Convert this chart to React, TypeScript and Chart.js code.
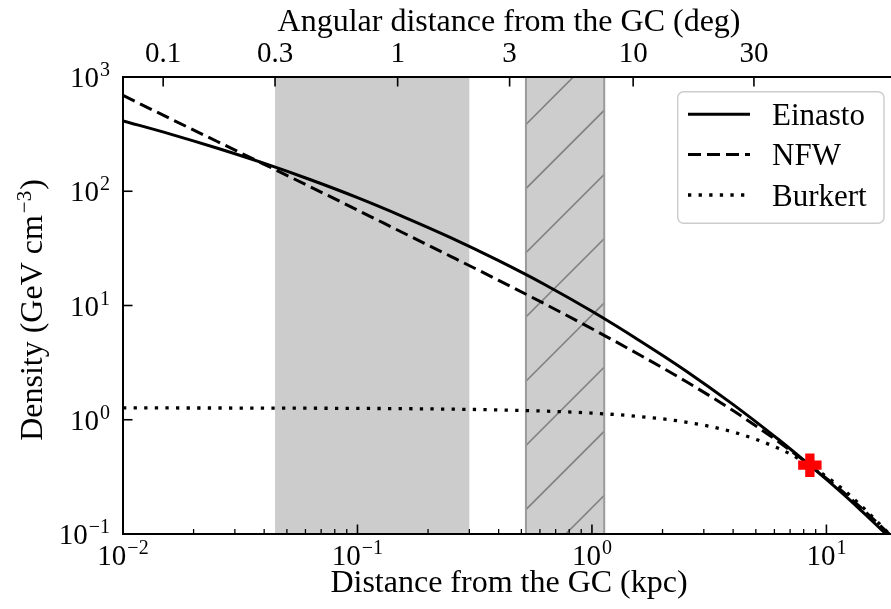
import React, { useEffect, useRef } from "react";
import { Chart, registerables } from "chart.js";

Chart.register(...registerables);

// ---------- data ----------
const radiiKpc = [0.01, 0.0158, 0.0251, 0.0398, 0.0631, 0.1, 0.158, 0.251, 0.398, 0.631, 1, 1.58, 2.51, 3.98, 6.31, 7.94, 10, 12.6, 15.8, 20];
const einastoDensity = [413, 318, 239, 176, 126, 87.9, 59.5, 39.1, 24.8, 15.2, 8.9, 5.0, 2.69, 1.37, 0.661, 0.449, 0.301, 0.198, 0.128, 0.081];
const nfwDensity = [690, 435, 274, 173, 109, 68.4, 42.9, 26.8, 16.7, 10.3, 6.26, 3.74, 2.17, 1.21, 0.632, 0.445, 0.307, 0.207, 0.136, 0.086];
const burkertDensity = [1.269, 1.268, 1.267, 1.265, 1.262, 1.257, 1.25, 1.238, 1.219, 1.19, 1.143, 1.069, 0.955, 0.784, 0.557, 0.434, 0.318, 0.218, 0.14, 0.085];
const sunRadiusKpc = [8.5];
const sunDensity = [0.4];

const seriesLabels = ["Einasto", "NFW", "Burkert"];
const xTickExponents = [-2, -1, 0, 1];
const yTickExponents = [-1, 0, 1, 2, 3];
const topTickDeg = [0.1, 0.3, 1, 3, 10, 30];
const topTickLabels = ["0.1", "0.3", "1", "3", "10", "30"];
const grayBandKpc = [0.0445, 0.3];
const hatchBandKpc = [0.523, 1.128];
const sunDistanceKpc = 8.5;
const xRange = [0.01, 20];
const yRange = [0.1, 1000];

const xTitle = "Distance from the GC (kpc)";
const topTitle = "Angular distance from the GC (deg)";
const yTitleMain = "Density (GeV cm";
const yTitleExp = "\u22123";

// ---------- styling ----------
const FONT = '"Liberation Serif", "Times New Roman", serif';
const TICK_SIZE = 29;
const SUP_SIZE = 20;
const SUP_SHIFT = 11;
const TITLE_SIZE = 32;
const LEGEND_SIZE = 31;

function drawPow(ctx: CanvasRenderingContext2D, x: number, y: number, exp: number, align: "center" | "right") {
  const es = exp < 0 ? "\u2212" + String(-exp) : String(exp);
  ctx.font = `${TICK_SIZE}px ${FONT}`;
  const wb = ctx.measureText("10").width;
  ctx.font = `${SUP_SIZE}px ${FONT}`;
  const we = ctx.measureText(es).width;
  const gap = 1;
  const total = wb + gap + we;
  const x0 = align === "center" ? x - total / 2 : x - total;
  ctx.textAlign = "left";
  ctx.textBaseline = "alphabetic";
  ctx.font = `${TICK_SIZE}px ${FONT}`;
  ctx.fillText("10", x0, y);
  ctx.font = `${SUP_SIZE}px ${FONT}`;
  ctx.fillText(es, x0 + wb + gap, y - SUP_SHIFT);
}

const decorPlugin = {
  id: "decor",
  beforeDatasetsDraw(chart: any) {
    const { ctx, chartArea: ca, scales } = chart;
    const xs = scales.x;
    const h = ca.bottom - ca.top;
    ctx.save();
    // plain gray band
    const g0 = xs.getPixelForValue(grayBandKpc[0]);
    const g1 = xs.getPixelForValue(grayBandKpc[1]);
    ctx.fillStyle = "#cccccc";
    ctx.fillRect(g0, ca.top, g1 - g0, h);
    // hatched band
    const h0 = xs.getPixelForValue(hatchBandKpc[0]);
    const h1 = xs.getPixelForValue(hatchBandKpc[1]);
    ctx.fillStyle = "#cdcdcd";
    ctx.fillRect(h0, ca.top, h1 - h0, h);
    ctx.save();
    ctx.beginPath();
    ctx.rect(h0, ca.top, h1 - h0, h);
    ctx.clip();
    ctx.strokeStyle = "#828282";
    ctx.lineWidth = 1.6;
    for (let k = -30; k < 40; k++) {
      const c = 650.3 + 64.2 * k;
      ctx.beginPath();
      ctx.moveTo(h0 - 20, c - (h0 - 20));
      ctx.lineTo(h1 + 20, c - (h1 + 20));
      ctx.stroke();
    }
    ctx.restore();
    ctx.strokeStyle = "#9a9a9a";
    ctx.lineWidth = 2;
    for (const px of [h0, h1]) {
      ctx.beginPath();
      ctx.moveTo(px, ca.top);
      ctx.lineTo(px, ca.bottom);
      ctx.stroke();
    }
    ctx.restore();
  },
  afterDatasetsDraw(chart: any) {
    const { ctx, chartArea: ca, scales } = chart;
    const xs = scales.x;
    const ys = scales.y;
    ctx.save();
    ctx.strokeStyle = "#000";
    ctx.fillStyle = "#000";
    ctx.lineCap = "butt";
    ctx.setLineDash([]);

    // spines
    ctx.lineWidth = 2;
    ctx.beginPath();
    ctx.moveTo(ca.left, ca.top);
    ctx.lineTo(ca.left, ca.bottom);
    ctx.moveTo(ca.left - 1, ca.bottom);
    ctx.lineTo(ca.right + 1, ca.bottom);
    ctx.moveTo(ca.left - 1, ca.top);
    ctx.lineTo(ca.right + 1, ca.top);
    ctx.moveTo(ca.right, ca.top);
    ctx.lineTo(ca.right, ca.bottom);
    ctx.stroke();

    // bottom major ticks
    ctx.lineWidth = 1.6;
    for (const e of xTickExponents) {
      const px = xs.getPixelForValue(Math.pow(10, e));
      ctx.beginPath();
      ctx.moveTo(px, ca.bottom);
      ctx.lineTo(px, ca.bottom - 9.5);
      ctx.stroke();
    }
    // bottom minor ticks
    ctx.lineWidth = 1.3;
    for (const e of xTickExponents) {
      for (let m = 2; m <= 9; m++) {
        const v = m * Math.pow(10, e);
        if (v > xRange[1]) continue;
        const px = xs.getPixelForValue(v);
        ctx.beginPath();
        ctx.moveTo(px, ca.bottom);
        ctx.lineTo(px, ca.bottom - 5);
        ctx.stroke();
      }
    }
    // top (angular) ticks
    ctx.lineWidth = 1.6;
    const topPx = topTickDeg.map((d) => xs.getPixelForValue(sunDistanceKpc * Math.tan((d * Math.PI) / 180)));
    for (const px of topPx) {
      ctx.beginPath();
      ctx.moveTo(px, ca.top);
      ctx.lineTo(px, ca.top + 9.5);
      ctx.stroke();
    }
    // left ticks
    for (const e of yTickExponents) {
      const py = ys.getPixelForValue(Math.pow(10, e));
      ctx.beginPath();
      ctx.moveTo(ca.left, py);
      ctx.lineTo(ca.left + 9.5, py);
      ctx.stroke();
    }

    // tick labels
    for (const e of xTickExponents) {
      const px = xs.getPixelForValue(Math.pow(10, e));
      drawPow(ctx, px, ca.bottom + 31, e, "center");
    }
    for (const e of yTickExponents) {
      const py = ys.getPixelForValue(Math.pow(10, e));
      drawPow(ctx, ca.left - 13, py + 10, e, "right");
    }
    ctx.font = `${TICK_SIZE}px ${FONT}`;
    ctx.textAlign = "center";
    ctx.textBaseline = "alphabetic";
    topPx.forEach((px, i) => ctx.fillText(topTickLabels[i], px, ca.top - 15));

    // axis titles
    const cx = (ca.left + ca.right) / 2 - 1;
    ctx.font = `${TITLE_SIZE}px ${FONT}`;
    ctx.fillText(xTitle, cx, ca.bottom + 58);
    ctx.fillText(topTitle, cx, 31);

    // y title (rotated)
    ctx.save();
    ctx.translate(42, 310);
    ctx.rotate(-Math.PI / 2);
    ctx.font = `${TITLE_SIZE}px ${FONT}`;
    const wMain = ctx.measureText(yTitleMain).width;
    ctx.font = `${SUP_SIZE + 1}px ${FONT}`;
    const wExp = ctx.measureText(yTitleExp).width;
    ctx.font = `${TITLE_SIZE}px ${FONT}`;
    const wClose = ctx.measureText(")").width;
    const total = wMain + 2 + wExp + 1 + wClose;
    const x0 = -total / 2;
    ctx.textAlign = "left";
    ctx.fillText(yTitleMain, x0, 0);
    ctx.font = `${SUP_SIZE + 1}px ${FONT}`;
    ctx.fillText(yTitleExp, x0 + wMain + 2, -11);
    ctx.font = `${TITLE_SIZE}px ${FONT}`;
    ctx.fillText(")", x0 + wMain + 2 + wExp + 1, 0);
    ctx.restore();

    // legend
    const lx = 677.7, ly = 91.7, lw = 206.3, lh = 131.6;
    ctx.beginPath();
    (ctx as any).roundRect(lx, ly, lw, lh, 6);
    ctx.fillStyle = "rgba(255,255,255,0.8)";
    ctx.fill();
    ctx.strokeStyle = "#cccccc";
    ctx.lineWidth = 1.4;
    ctx.stroke();
    const rows = [114.3, 154.5, 195];
    const ds = chart.data.datasets;
    seriesLabels.forEach((label, i) => {
      const d = ds.find((s: any) => s.label === label);
      ctx.strokeStyle = d.borderColor;
      ctx.lineWidth = d.borderWidth;
      ctx.setLineDash(d.borderDash || []);
      ctx.beginPath();
      ctx.moveTo(688, rows[i]);
      ctx.lineTo(750, rows[i]);
      ctx.stroke();
      ctx.setLineDash([]);
      ctx.fillStyle = "#000";
      ctx.font = `${LEGEND_SIZE}px ${FONT}`;
      ctx.textAlign = "left";
      ctx.fillText(label, 772, rows[i] + 10.5);
    });
    ctx.restore();
  },
};

export default function App() {
  const canvasRef = useRef<HTMLCanvasElement | null>(null);

  useEffect(() => {
    const canvas = canvasRef.current;
    if (!canvas) return;
    const pts = (ys: number[]) => radiiKpc.map((r, i) => ({ x: r, y: ys[i] }));
    const chart = new Chart(canvas, {
      type: "line",
      data: {
        datasets: [
          {
            label: "Sun",
            data: sunRadiusKpc.map((r, i) => ({ x: r, y: sunDensity[i] })),
            showLine: false,
            pointStyle: "cross",
            pointRadius: 11.7,
            pointBorderWidth: 9.3,
            pointBorderColor: "#ff0000",
            pointBackgroundColor: "#ff0000",
            borderColor: "#ff0000",
          },
          {
            label: seriesLabels[0],
            data: pts(einastoDensity),
            borderColor: "#000000",
            borderWidth: 3,
            pointRadius: 0,
            cubicInterpolationMode: "monotone",
            fill: false,
          },
          {
            label: seriesLabels[1],
            data: pts(nfwDensity),
            borderColor: "#000000",
            borderWidth: 3,
            borderDash: [13, 6],
            pointRadius: 0,
            cubicInterpolationMode: "monotone",
            fill: false,
          },
          {
            label: seriesLabels[2],
            data: pts(burkertDensity),
            borderColor: "#000000",
            borderWidth: 3.3,
            borderDash: [3.3, 7.3],
            pointRadius: 0,
            cubicInterpolationMode: "monotone",
            fill: false,
          },
        ] as any,
      },
      options: {
        responsive: false,
        animation: false,
        devicePixelRatio: 1,
        events: [],
        layout: { padding: { left: 123, top: 77, right: 23, bottom: 75 } },
        scales: {
          x: { type: "logarithmic", min: xRange[0], max: xRange[1], display: false },
          y: { type: "logarithmic", min: yRange[0], max: yRange[1], display: false },
        },
        plugins: { legend: { display: false }, tooltip: { enabled: false } },
      } as any,
      plugins: [decorPlugin as any],
    });
    return () => chart.destroy();
  }, []);

  return (
    <div style={{ position: "absolute", left: 0, top: 0, width: 891, height: 609, overflow: "hidden", background: "#fff" }}>
      <canvas ref={canvasRef} width={920} height={609} style={{ display: "block", width: 920, height: 609 }} />
    </div>
  );
}
